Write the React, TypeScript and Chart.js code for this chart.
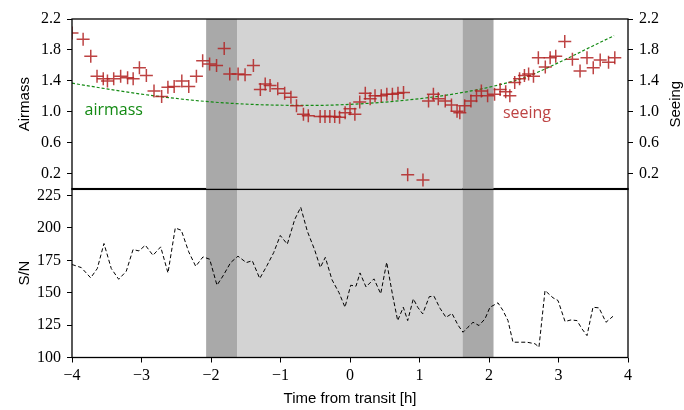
import React, { useEffect, useRef } from "react";
import { Chart, registerables } from "chart.js";

Chart.register(...registerables);

// ---------------- data ----------------
const seeingTimes = [-4.0, -3.84, -3.73, -3.64, -3.55, -3.49, -3.4, -3.3, -3.2, -3.12, -3.03, -2.93, -2.82, -2.71, -2.62, -2.53, -2.42, -2.32, -2.21, -2.12, -2.02, -1.92, -1.81, -1.73, -1.61, -1.51, -1.39, -1.29, -1.22, -1.15, -1.04, -0.94, -0.85, -0.77, -0.67, -0.6, -0.43, -0.36, -0.29, -0.22, -0.15, -0.07, 0.0, 0.07, 0.14, 0.22, 0.29, 0.36, 0.45, 0.53, 0.61, 0.69, 0.77, 0.83, 1.05, 1.13, 1.2, 1.27, 1.37, 1.46, 1.54, 1.58, 1.65, 1.74, 1.82, 1.89, 1.98, 2.08, 2.16, 2.24, 2.3, 2.37, 2.44, 2.51, 2.57, 2.64, 2.71, 2.81, 2.88, 2.96, 3.09, 3.2, 3.31, 3.41, 3.5, 3.6, 3.72, 3.81];
const seeingValues = [2.02, 1.94, 1.72, 1.46, 1.43, 1.4, 1.43, 1.46, 1.44, 1.43, 1.57, 1.47, 1.27, 1.2, 1.32, 1.33, 1.4, 1.33, 1.46, 1.66, 1.62, 1.6, 1.82, 1.49, 1.49, 1.48, 1.6, 1.29, 1.36, 1.34, 1.3, 1.24, 1.19, 1.08, 0.97, 0.95, 0.94, 0.94, 0.94, 0.94, 0.93, 0.99, 1.04, 0.97, 1.13, 1.24, 1.17, 1.21, 1.21, 1.23, 1.23, 1.24, 1.25, 0.19, 0.12, 1.14, 1.23, 1.17, 1.14, 1.09, 1.01, 0.99, 1.08, 1.14, 1.21, 1.27, 1.21, 1.23, 1.29, 1.26, 1.21, 1.38, 1.43, 1.47, 1.49, 1.46, 1.7, 1.58, 1.7, 1.72, 1.91, 1.68, 1.53, 1.7, 1.57, 1.67, 1.64, 1.7];

const airmassTimes = [-4, -3.5, -3, -2.5, -2, -1.5, -1, -0.5, 0, 0.5, 1, 1.5, 2, 2.5, 3, 3.5, 3.8];
const airmassValues = [1.371, 1.298, 1.23, 1.174, 1.13, 1.101, 1.087, 1.085, 1.098, 1.127, 1.171, 1.233, 1.319, 1.441, 1.636, 1.855, 1.985];

const snTimes = [-4.0, -3.866, -3.731, -3.636, -3.54, -3.435, -3.328, -3.219, -3.122, -3.036, -2.945, -2.835, -2.724, -2.619, -2.514, -2.427, -2.321, -2.22, -2.115, -2.019, -1.914, -1.827, -1.717, -1.612, -1.492, -1.406, -1.299, -1.194, -1.098, -1.003, -0.902, -0.796, -0.709, -0.614, -0.508, -0.427, -0.355, -0.259, -0.158, -0.072, 0.01, 0.086, 0.144, 0.23, 0.345, 0.442, 0.528, 0.614, 0.686, 0.767, 0.83, 0.911, 0.974, 1.046, 1.141, 1.209, 1.295, 1.381, 1.468, 1.554, 1.626, 1.698, 1.77, 1.856, 1.942, 2.014, 2.129, 2.201, 2.273, 2.345, 2.446, 2.547, 2.662, 2.719, 2.806, 2.921, 2.993, 3.094, 3.18, 3.266, 3.338, 3.41, 3.496, 3.583, 3.683, 3.784];
const snValues = [171.8, 169.4, 161.5, 168.7, 188.0, 168.7, 160.4, 166.6, 183.3, 182.3, 186.7, 178.9, 185.4, 165.3, 200.0, 198.2, 181.6, 170.4, 177.7, 175.9, 155.8, 163.0, 173.3, 178.2, 173.3, 174.7, 161.0, 171.0, 181.0, 194.2, 187.5, 206.5, 216.0, 197.5, 183.0, 169.5, 177.3, 160.0, 150.0, 138.8, 155.8, 155.0, 165.3, 154.5, 160.7, 149.2, 173.5, 147.8, 128.5, 138.8, 128.5, 145.3, 138.8, 133.7, 147.0, 147.3, 138.0, 131.0, 134.0, 125.0, 119.5, 123.4, 127.2, 124.7, 129.8, 138.8, 142.2, 136.3, 128.5, 111.8, 111.8, 111.8, 110.6, 108.0, 151.7, 146.1, 144.0, 127.8, 129.0, 128.5, 122.1, 116.9, 138.8, 138.3, 127.2, 131.8];

const upperTicks = [0.2, 0.6, 1.0, 1.4, 1.8, 2.2];
const snTicks = [100, 125, 150, 175, 200, 225];
const timeTicks = [-4, -3, -2, -1, 0, 1, 2, 3, 4];

// transit phases
const bandStarts = [-2.07, -1.625, 1.62];
const bandEnds = [-1.625, 1.62, 2.065];
const bandKinds = ["dark", "light", "dark"];

// ---------------- styles ----------------
const SEEING_COLOR = "rgba(178,34,34,0.85)";
const AIRMASS_COLOR = "#138a13";
const TICK_FONT = { family: "'Liberation Serif', 'DejaVu Serif', serif", size: 16 };
const TITLE_FONT = { family: "'Liberation Sans', 'DejaVu Sans', sans-serif", size: 15 };
const fmtMinus = (v: number) => String(v).replace("-", "\u2212");

const bandsPlugin = {
  id: "bands",
  beforeDatasetsDraw(chart: any) {
    const { ctx, chartArea } = chart;
    const xs = chart.scales.x;
    ctx.save();
    for (let i = 0; i < bandStarts.length; i++) {
      const a = xs.getPixelForValue(bandStarts[i]);
      const b = xs.getPixelForValue(bandEnds[i]);
      ctx.fillStyle = bandKinds[i] === "dark" ? "#a9a9a9" : "#d3d3d3";
      ctx.fillRect(a, chartArea.top, b - a, chartArea.bottom - chartArea.top);
    }
    ctx.restore();
  },
};

const framePlugin = {
  id: "frame",
  afterDraw(chart: any) {
    const { ctx, chartArea } = chart;
    ctx.save();
    ctx.strokeStyle = "#000";
    ctx.lineWidth = 1.3;
    ctx.strokeRect(chartArea.left, chartArea.top, chartArea.right - chartArea.left, chartArea.bottom - chartArea.top);
    ctx.restore();
  },
};

const labelsPlugin = {
  id: "labels",
  afterDatasetsDraw(chart: any) {
    const { ctx } = chart;
    const xs = chart.scales.x;
    const ys = chart.scales.ySee;
    ctx.save();
    ctx.font = "16px 'Open Sans', 'DejaVu Sans', sans-serif";
    ctx.textBaseline = "middle";
    ctx.textAlign = "left";
    ctx.fillStyle = AIRMASS_COLOR;
    ctx.fillText("airmass", xs.getPixelForValue(-3.82), ys.getPixelForValue(1.015));
    ctx.fillStyle = "rgba(178,34,34,0.85)";
    ctx.fillText("seeing", xs.getPixelForValue(2.2), ys.getPixelForValue(0.975));
    ctx.fillStyle = "#000";
    ctx.font = "15px 'Liberation Sans', 'DejaVu Sans', sans-serif";
    ctx.textAlign = "center";
    ctx.translate(676, (chart.chartArea.top + chart.chartArea.bottom) / 2);
    ctx.rotate(-Math.PI / 2);
    ctx.fillText("Seeing", 0, 0);
    ctx.restore();
  },
};

const tickGrid = { drawOnChartArea: false, drawTicks: true, tickLength: 5, tickColor: "#000", tickWidth: 1, color: "#000" };

export default function App() {
  const topRef = useRef<HTMLCanvasElement>(null);
  const botRef = useRef<HTMLCanvasElement>(null);

  useEffect(() => {
    const top = new Chart(topRef.current as HTMLCanvasElement, {
      type: "scatter",
      data: {
        datasets: [
          {
            label: "seeing",
            data: seeingTimes.map((t, i) => ({ x: t, y: seeingValues[i] })),
            yAxisID: "ySee",
            pointStyle: "cross",
            pointRadius: 6.5,
            pointBorderWidth: 1.5,
            borderColor: SEEING_COLOR,
            backgroundColor: SEEING_COLOR,
            showLine: false,
          } as any,
          {
            type: "line",
            label: "airmass",
            data: airmassTimes.map((t, i) => ({ x: t, y: airmassValues[i] })),
            yAxisID: "yAir",
            pointRadius: 0,
            borderColor: AIRMASS_COLOR,
            borderWidth: 1.2,
            borderDash: [3, 2],
            cubicInterpolationMode: "monotone",
            fill: false,
          } as any,
        ],
      },
      options: {
        animation: false,
        responsive: false,
        maintainAspectRatio: false,
        layout: { padding: { top: 19, bottom: 12, left: 0, right: 0 } },
        plugins: { legend: { display: false }, tooltip: { enabled: false } },
        scales: {
          x: { type: "linear", min: -4, max: 4, display: false },
          yAir: {
            type: "linear",
            position: "left",
            min: 0,
            max: 2.2,
            afterBuildTicks: (s: any) => { s.ticks = upperTicks.map((v) => ({ value: v })); },
            afterFit: (s: any) => { s.width = 72; },
            grid: tickGrid,
            border: { display: false },
            ticks: { font: TICK_FONT, color: "#000", padding: 6, autoSkip: false, callback: (v: any) => Number(v).toFixed(1) },
            title: { display: true, text: "Airmass", font: TITLE_FONT, color: "#000", padding: { top: 16, bottom: 0 } },
          },
          ySee: {
            type: "linear",
            position: "right",
            min: 0,
            max: 2.2,
            afterBuildTicks: (s: any) => { s.ticks = upperTicks.map((v) => ({ value: v })); },
            afterFit: (s: any) => { s.width = 56; },
            grid: tickGrid,
            border: { display: false },
            ticks: { font: TICK_FONT, color: "#000", padding: 6, autoSkip: false, callback: (v: any) => Number(v).toFixed(1) },
          },
        },
      } as any,
      plugins: [bandsPlugin, framePlugin, labelsPlugin],
    });

    const bot = new Chart(botRef.current as HTMLCanvasElement, {
      type: "line",
      data: {
        datasets: [
          {
            label: "S/N",
            data: snTimes.map((t, i) => ({ x: t, y: snValues[i] })),
            pointRadius: 0,
            borderColor: "#000",
            borderWidth: 1,
            borderDash: [4, 2.5],
            tension: 0,
            fill: false,
          } as any,
        ],
      },
      options: {
        animation: false,
        responsive: false,
        maintainAspectRatio: false,
        layout: { padding: { top: 10, bottom: 0, left: 0, right: 56 } },
        plugins: { legend: { display: false }, tooltip: { enabled: false } },
        scales: {
          x: {
            type: "linear",
            position: "bottom",
            min: -4,
            max: 4,
            afterBuildTicks: (s: any) => { s.ticks = timeTicks.map((v) => ({ value: v })); },
            afterFit: (s: any) => { s.height = 52.5; },
            grid: tickGrid,
            border: { display: false },
            ticks: { font: TICK_FONT, color: "#000", padding: 4, autoSkip: false, maxRotation: 0, callback: (v: any) => fmtMinus(Number(v)) },
            title: { display: true, text: "Time from transit [h]", font: TITLE_FONT, color: "#000", padding: { top: 0, bottom: 2 } },
          },
          y: {
            type: "linear",
            position: "left",
            min: 100,
            max: 230.4,
            afterBuildTicks: (s: any) => { s.ticks = snTicks.map((v) => ({ value: v })); },
            afterFit: (s: any) => { s.width = 72; },
            grid: tickGrid,
            border: { display: false },
            ticks: { font: TICK_FONT, color: "#000", padding: 6, autoSkip: false },
            title: { display: true, text: "S/N", font: TITLE_FONT, color: "#000", padding: { top: 16, bottom: 0 } },
          },
        },
      } as any,
      plugins: [bandsPlugin, framePlugin],
    });

    return () => {
      top.destroy();
      bot.destroy();
    };
  }, []);

  return (
    <div style={{ position: "fixed", left: 0, top: 0, width: 684, height: 410, background: "#fff", overflow: "hidden" }}>
      <canvas ref={botRef} width={684} height={237} style={{ position: "absolute", left: 0, top: 173 }} />
      <canvas ref={topRef} width={684} height={205} style={{ position: "absolute", left: 0, top: 0 }} />
    </div>
  );
}
